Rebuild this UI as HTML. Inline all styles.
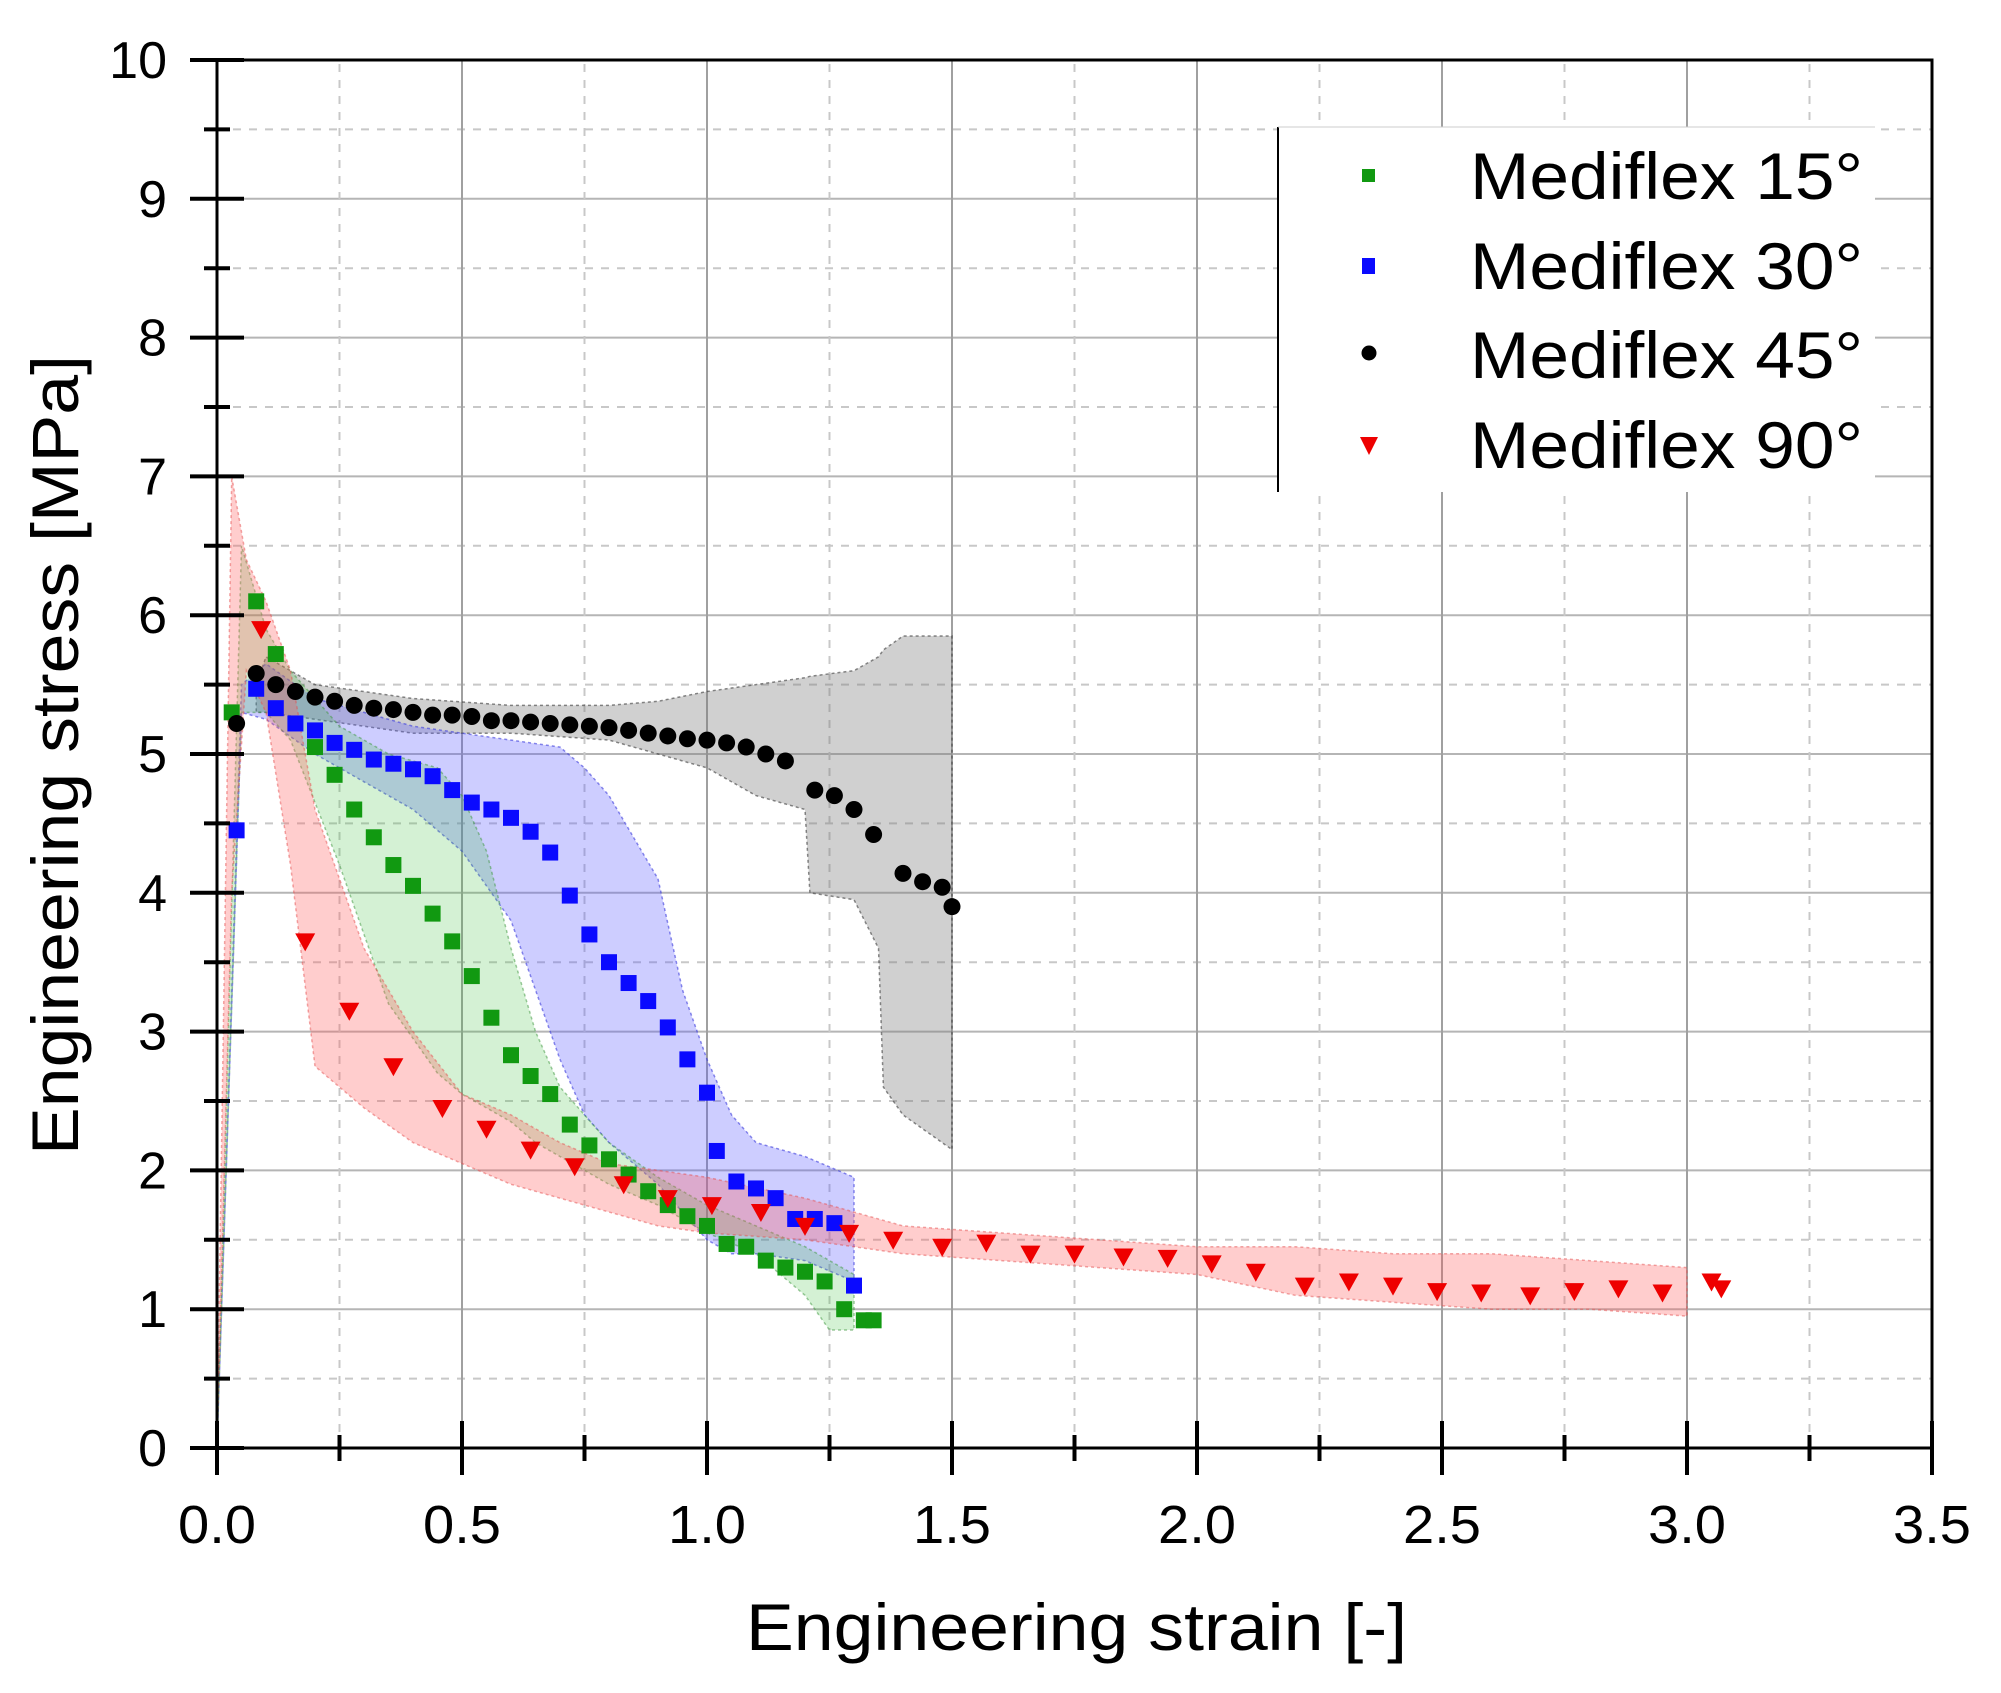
<!DOCTYPE html>
<html><head><meta charset="utf-8"><style>
html,body{margin:0;padding:0;background:#fff}
svg{display:block}
text{font-family:"Liberation Sans",Arial,sans-serif;fill:#000}
</style></head><body>
<svg id="chart" width="2001" height="1693" viewBox="0 0 2001 1693" xmlns="http://www.w3.org/2000/svg">
<g id="grid"></g>
<g id="bands"></g>
<g id="marks"></g>
<g id="axes"></g>
<g id="legend">
<rect x="1278" y="127" width="597" height="365" fill="#fff" stroke="none"/>
<line x1="1278" y1="127" x2="1278" y2="492" stroke="#000" stroke-width="2"/>
<line x1="1278" y1="127" x2="1875" y2="127" stroke="#ccc" stroke-width="1"/>
<g><rect x="1362" y="169" width="13" height="13" fill="#119911"/><text x="1470" y="199" font-size="66" textLength="393" lengthAdjust="spacingAndGlyphs">Mediflex 15°</text></g>
<g><rect x="1362" y="258" width="13" height="16" fill="#0a0aff"/><text x="1470" y="289" font-size="66" textLength="393" lengthAdjust="spacingAndGlyphs">Mediflex 30°</text></g>
<g><circle cx="1369" cy="353" r="7.5" fill="#000"/><text x="1470" y="378" font-size="66" textLength="393" lengthAdjust="spacingAndGlyphs">Mediflex 45°</text></g>
<g><polygon points="1360,437 1378,437 1369,455" fill="#ee0000"/><text x="1470" y="468" font-size="66" textLength="393" lengthAdjust="spacingAndGlyphs">Mediflex 90°</text></g>
</g>
<text x="746" y="1650" font-size="66" textLength="661" lengthAdjust="spacingAndGlyphs">Engineering strain [-]</text>
<text x="-400" y="0" font-size="66" textLength="800" lengthAdjust="spacingAndGlyphs" transform="translate(78,755) rotate(-90)">Engineering stress [MPa]</text>
</svg>
<script>
const xTicks=[0,0.5,1.0,1.5,2.0,2.5,3.0,3.5];
const xTickLabels=["0.0","0.5","1.0","1.5","2.0","2.5","3.0","3.5"];
const yTicks=[0,1,2,3,4,5,6,7,8,9,10];
const yTickLabels=["0","1","2","3","4","5","6","7","8","9","10"];

const x15=[0.03,0.08,0.12,0.20,0.24,0.28,0.32,0.36,0.40,0.44,0.48,0.52,0.56,0.60,0.64,0.68,0.72,0.76,0.80,0.84,0.88,0.92,0.96,1.00,1.04,1.08,1.12,1.16,1.20,1.24,1.28,1.32,1.34];
const y15=[5.3,6.1,5.72,5.05,4.85,4.6,4.4,4.2,4.05,3.85,3.65,3.4,3.1,2.83,2.68,2.55,2.33,2.18,2.08,1.97,1.85,1.75,1.67,1.6,1.47,1.45,1.35,1.3,1.27,1.2,1.0,0.92,0.92];
const x30=[0.04,0.08,0.12,0.16,0.20,0.24,0.28,0.32,0.36,0.40,0.44,0.48,0.52,0.56,0.60,0.64,0.68,0.72,0.76,0.80,0.84,0.88,0.92,0.96,1.00,1.02,1.06,1.10,1.14,1.18,1.22,1.26,1.30];
const y30=[4.45,5.47,5.33,5.22,5.17,5.08,5.03,4.96,4.93,4.89,4.84,4.74,4.65,4.6,4.54,4.44,4.29,3.98,3.7,3.5,3.35,3.22,3.03,2.8,2.56,2.14,1.92,1.87,1.8,1.65,1.65,1.62,1.17];
const x45=[0.04,0.08,0.12,0.16,0.20,0.24,0.28,0.32,0.36,0.40,0.44,0.48,0.52,0.56,0.60,0.64,0.68,0.72,0.76,0.80,0.84,0.88,0.92,0.96,1.00,1.04,1.08,1.12,1.16,1.22,1.26,1.30,1.34,1.40,1.44,1.48,1.50];
const y45=[5.22,5.58,5.5,5.45,5.41,5.38,5.35,5.33,5.32,5.3,5.28,5.28,5.27,5.24,5.24,5.23,5.22,5.21,5.2,5.19,5.17,5.15,5.13,5.11,5.1,5.08,5.05,5.0,4.95,4.74,4.7,4.6,4.42,4.14,4.08,4.04,3.9];
const x90=[0.09,0.18,0.27,0.36,0.46,0.55,0.64,0.73,0.83,0.92,1.01,1.11,1.20,1.29,1.38,1.48,1.57,1.66,1.75,1.85,1.94,2.03,2.12,2.22,2.31,2.40,2.49,2.58,2.68,2.77,2.86,2.95,3.05,3.07];
const y90=[5.9,3.65,3.15,2.75,2.45,2.3,2.15,2.03,1.9,1.8,1.75,1.7,1.6,1.55,1.5,1.45,1.48,1.4,1.4,1.38,1.37,1.33,1.27,1.17,1.2,1.17,1.13,1.12,1.1,1.13,1.15,1.12,1.2,1.15];

const bandRedX=[0,0.03,0.06,0.10,0.15,0.20,0.30,0.40,0.50,0.60,0.70,0.80,0.90,1.00,1.20,1.40,1.60,1.80,2.00,2.20,2.40,2.60,2.80,3.00];
const bandRedHi=[0,7.0,6.4,6.1,5.6,4.6,3.6,3.0,2.55,2.4,2.2,2.05,2.0,1.95,1.8,1.6,1.55,1.5,1.45,1.45,1.4,1.4,1.35,1.3];
const bandRedLo=[0,4.0,5.6,5.3,4.2,2.75,2.45,2.2,2.05,1.9,1.8,1.7,1.6,1.55,1.5,1.4,1.35,1.3,1.25,1.1,1.05,1.0,1.0,0.95];
const bandGreenX=[0,0.05,0.10,0.15,0.25,0.35,0.45,0.50,0.55,0.60,0.65,0.70,0.80,0.90,1.00,1.10,1.20,1.25,1.30];
const bandGreenHi=[0,6.5,5.9,5.6,5.2,5.0,4.9,4.7,4.3,3.6,3.0,2.6,2.2,1.95,1.75,1.6,1.45,1.35,1.25];
const bandGreenLo=[0,5.3,5.3,5.1,4.2,3.2,2.7,2.55,2.45,2.35,2.2,2.1,1.9,1.75,1.55,1.4,1.1,0.85,0.85];
const bandBlueX=[0,0.05,0.10,0.20,0.30,0.40,0.50,0.60,0.70,0.75,0.80,0.85,0.90,0.95,1.00,1.05,1.10,1.20,1.30];
const bandBlueHi=[0,5.5,5.65,5.4,5.3,5.2,5.15,5.1,5.05,4.9,4.7,4.4,4.1,3.3,2.8,2.4,2.2,2.1,1.95];
const bandBlueLo=[0,5.3,5.25,5.0,4.8,4.6,4.3,3.8,2.8,2.4,2.2,2.05,1.9,1.7,1.5,1.4,1.4,1.35,1.2];
const bandGreyX=[0.08,0.10,0.20,0.40,0.60,0.80,0.90,1.00,1.10,1.20,1.21,1.30,1.35,1.36,1.40,1.50];
const bandGreyHi=[5.5,5.7,5.5,5.4,5.35,5.35,5.38,5.45,5.5,5.55,5.56,5.6,5.7,5.75,5.85,5.85];
const bandGreyLo=[5.3,5.3,5.25,5.15,5.15,5.1,5.0,4.9,4.7,4.6,4.0,3.95,3.6,2.6,2.4,2.15];

const X0=217,X1=1932,Y0=1448,Y1=60;
const sx=v=>X0+(v/3.5)*(X1-X0);
const sy=v=>Y0-(v/10)*(Y0-Y1);
const NS="http://www.w3.org/2000/svg";
function mk(tag,attrs,parent){const e=document.createElementNS(NS,tag);for(const k in attrs)e.setAttribute(k,attrs[k]);parent.appendChild(e);return e;}

const grid=document.getElementById('grid');
for(let i=0;i<=20;i++){const v=i*0.5;const y=sy(v);const major=i%2===0;
 const l=mk('line',{x1:X0,x2:X1,y1:y,y2:y,stroke:major?'#b5b5b5':'#c8c8c8','stroke-width':2,'stroke-dasharray':major?'none':'8,8'},grid);
 
 }
for(let i=0;i<=14;i++){const v=i*0.25;const x=sx(v);const major=i%2===0;
 const l=mk('line',{x1:x,x2:x,y1:Y0,y2:Y1,stroke:major?'#a0a0a0':'#c8c8c8','stroke-width':2,'stroke-dasharray':major?'none':'8,8'},grid);
 
 }

const bands=document.getElementById('bands');
function band(xs,hi,lo,fill,stroke,name){let d='';
 xs.forEach((x,i)=>{d+=(i?'L':'M')+sx(x).toFixed(1)+','+sy(hi[i]).toFixed(1);});
 for(let i=xs.length-1;i>=0;i--)d+='L'+sx(xs[i]).toFixed(1)+','+sy(lo[i]).toFixed(1);
 d+='Z';
 const p=mk('path',{d:d,fill:fill,stroke:stroke,'stroke-width':1.5,'stroke-dasharray':'3,3'},bands);
 
 }
band(bandGreyX,bandGreyHi,bandGreyLo,'rgba(120,120,120,0.35)','rgba(60,60,60,0.6)','band-45');
band(bandBlueX,bandBlueHi,bandBlueLo,'rgba(90,90,255,0.3)','rgba(60,60,220,0.6)','band-30');
band(bandGreenX,bandGreenHi,bandGreenLo,'rgba(60,190,60,0.22)','rgba(60,150,60,0.5)','band-15');
band(bandRedX,bandRedHi,bandRedLo,'rgba(255,90,90,0.3)','rgba(230,80,80,0.5)','band-90');

const marks=document.getElementById('marks');
x15.forEach((x,i)=>{const r=mk('rect',{x:sx(x)-8,y:sy(y15[i])-8,width:16,height:16,fill:'#119911'},marks);
 
 });
x30.forEach((x,i)=>{const r=mk('rect',{x:sx(x)-8,y:sy(y30[i])-8,width:16,height:16,fill:'#0a0aff'},marks);
 
 });
x45.forEach((x,i)=>{const c=mk('circle',{cx:sx(x),cy:sy(y45[i]),r:8.5,fill:'#000'},marks);
 
 });
x90.forEach((x,i)=>{const cx=sx(x),cy=sy(y90[i]);const t=mk('polygon',{points:`${cx-10},${cy-8} ${cx+10},${cy-8} ${cx},${cy+10}`,fill:'#ee0000'},marks);
 
 });

const axes=document.getElementById('axes');
mk('rect',{x:X0,y:Y1,width:X1-X0,height:Y0-Y1,fill:'none',stroke:'#000','stroke-width':3},axes);
xTicks.forEach((v,i)=>{const x=sx(v);
 mk('line',{x1:x,x2:x,y1:Y0-27,y2:Y0+27,stroke:'#000','stroke-width':4},axes);
 if(i<xTicks.length-1){const m=sx(v+0.25);mk('line',{x1:m,x2:m,y1:Y0-13,y2:Y0+13,stroke:'#000','stroke-width':4},axes);}
 const t=mk('text',{x:x-39,y:1543,'font-size':54,textLength:78,lengthAdjust:'spacingAndGlyphs'},axes);t.textContent=xTickLabels[i];
 
 });
yTicks.forEach((v,i)=>{const y=sy(v);
 mk('line',{x1:X0-27,x2:X0+27,y1:y,y2:y,stroke:'#000','stroke-width':4},axes);
 if(i<yTicks.length-1){const m=sy(v+0.5);mk('line',{x1:X0-13,x2:X0+13,y1:m,y2:m,stroke:'#000','stroke-width':4},axes);}
 const t=mk('text',{x:167,y:y+18,'font-size':52,'text-anchor':'end'},axes);t.textContent=yTickLabels[i];
 
 });
</script>
</body></html>
